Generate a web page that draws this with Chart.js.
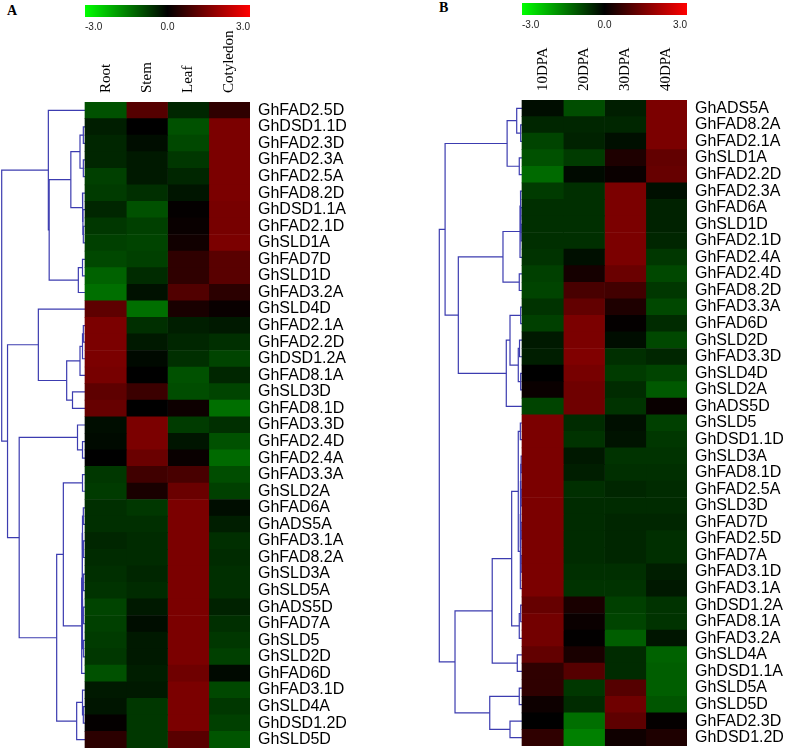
<!DOCTYPE html>
<html>
<head>
<meta charset="utf-8">
<title>Desaturase expression heatmaps</title>
<script src="https://cdn.jsdelivr.net/npm/chart.js@4.4.0/dist/chart.umd.min.js"></script>
<style>
  body { margin: 0; background: #fff; }
  #page { position: relative; width: 787px; height: 750px; overflow: hidden; }
  canvas { position: absolute; }
  .tag { position: absolute; font: bold 14px "Liberation Serif", serif; line-height: 1; }
</style>
</head>
<body>
<div id="page">
  <div class="tag" style="left:7px;top:4px">A</div>
  <div class="tag" style="left:439px;top:1px">B</div>
  <canvas id="keyA" width="185" height="40" style="left:75px;top:0"></canvas>
  <canvas id="keyB" width="185" height="40" style="left:512px;top:0"></canvas>
  <canvas id="heatA" width="360" height="750" style="left:0;top:0"></canvas>
  <canvas id="heatB" width="387" height="750" style="left:400px;top:0"></canvas>
</div>

<script>
// colour key
const keyTicks = [-3, 0, 3];

// panel A: tissues
const colsA = ['Root', 'Stem', 'Leaf', 'Cotyledon'];
const rowsA = ['GhFAD2.5D', 'GhDSD1.1D', 'GhFAD2.3D', 'GhFAD2.3A', 'GhFAD2.5A', 'GhFAD8.2D', 'GhDSD1.1A',
  'GhFAD2.1D', 'GhSLD1A', 'GhFAD7D', 'GhSLD1D', 'GhFAD3.2A', 'GhSLD4D', 'GhFAD2.1A', 'GhFAD2.2D',
  'GhDSD1.2A', 'GhFAD8.1A', 'GhSLD3D', 'GhFAD8.1D', 'GhFAD3.3D', 'GhFAD2.4D', 'GhFAD2.4A', 'GhFAD3.3A',
  'GhSLD2A', 'GhFAD6A', 'GhADS5A', 'GhFAD3.1A', 'GhFAD8.2A', 'GhSLD3A', 'GhSLD5A', 'GhADS5D', 'GhFAD7A',
  'GhSLD5', 'GhSLD2D', 'GhFAD6D', 'GhFAD3.1D', 'GhSLD4A', 'GhDSD1.2D', 'GhSLD5D'];
const rootA = [-0.95, -0.35, -0.45, -0.45, -0.75, -0.7, -0.45, -0.65, -0.75, -0.85, -1.15, -1.3, 1.1, 1.45,
  1.45, 1.45, 1.4, 1.1, 1.2, -0.15, -0.12, 0, -0.65, -0.7, -0.55, -0.55, -0.45, -0.5, -0.55, -0.6, -0.8,
  -0.75, -0.7, -0.65, -0.95, -0.3, -0.25, 0.05, 0.5];
const stemA = [1.0, 0, -0.15, -0.3, -0.3, -0.55, -0.95, -0.75, -0.8, -0.75, -0.5, -0.2, -1.3, -0.55, -0.3,
  -0.1, 0, 0.7, 0, 1.45, 1.45, 1.25, 0.75, 0.3, -0.65, -0.55, -0.5, -0.5, -0.45, -0.5, -0.3, -0.15, -0.3,
  -0.3, -0.35, -0.3, -0.65, -0.65, -0.65];
const leafA = [-0.45, -0.95, -0.85, -0.65, -0.45, -0.25, 0.05, 0.1, 0.2, 0.55, 0.55, 0.95, 0.3, -0.35,
  -0.45, -0.55, -0.95, -0.9, 0.15, -0.7, -0.25, 0.1, 0.85, 1.25, 1.45, 1.45, 1.45, 1.45, 1.45, 1.45, 1.45,
  1.45, 1.45, 1.45, 1.3, 1.45, 1.45, 1.45, 1.05];
const cotyledonA = [0.55, 1.45, 1.45, 1.45, 1.45, 1.45, 1.4, 1.4, 1.45, 1.05, 1.05, 0.5, 0.1, -0.3, -0.55,
  -0.8, -0.45, -0.8, -1.3, -0.55, -0.95, -1.25, -0.9, -0.75, -0.15, -0.35, -0.55, -0.5, -0.55, -0.55, -0.4,
  -0.55, -0.65, -0.75, -0.1, -0.85, -0.65, -0.75, -1.0];
// merges [left, right, distance]; ids above 38 are earlier merges
const treeA = [[1, 2, 0.02], [3, 4, 0.02], [39, 40, 0.06], [7, 8, 0.02], [6, 42, 0.025], [5, 43, 0.03],
  [41, 44, 0.17], [9, 10, 0.03], [46, 11, 0.08], [45, 47, 0.43], [0, 48, 0.44], [13, 14, 0.02],
  [50, 15, 0.03], [51, 16, 0.06], [17, 18, 0.15], [52, 53, 0.22], [12, 54, 0.56], [20, 21, 0.03],
  [19, 56, 0.09], [22, 23, 0.03], [24, 25, 0.02], [26, 27, 0.02], [59, 60, 0.03], [28, 29, 0.02],
  [30, 31, 0.02], [62, 63, 0.03], [32, 33, 0.02], [64, 65, 0.03], [61, 66, 0.035], [67, 34, 0.04],
  [58, 68, 0.26], [36, 37, 0.02], [35, 70, 0.03], [71, 38, 0.10], [69, 72, 0.34], [57, 73, 0.79],
  [55, 74, 0.93], [49, 75, 1.0]];

// panel B: fibre development
const colsB = ['10DPA', '20DPA', '30DPA', '40DPA'];
const rowsB = ['GhADS5A', 'GhFAD8.2A', 'GhFAD2.1A', 'GhSLD1A', 'GhFAD2.2D', 'GhFAD2.3A', 'GhFAD6A',
  'GhSLD1D', 'GhFAD2.1D', 'GhFAD2.4A', 'GhFAD2.4D', 'GhFAD8.2D', 'GhFAD3.3A', 'GhFAD6D', 'GhSLD2D',
  'GhFAD3.3D', 'GhSLD4D', 'GhSLD2A', 'GhADS5D', 'GhSLD5', 'GhDSD1.1D', 'GhSLD3A', 'GhFAD8.1D',
  'GhFAD2.5A', 'GhSLD3D', 'GhFAD7D', 'GhFAD2.5D', 'GhFAD7A', 'GhFAD3.1D', 'GhFAD3.1A', 'GhDSD1.2A',
  'GhFAD8.1A', 'GhFAD3.2A', 'GhSLD4A', 'GhDSD1.1A', 'GhSLD5A', 'GhSLD5D', 'GhFAD2.3D', 'GhDSD1.2D'];
const dpa10 = [-0.15, -0.45, -0.8, -0.95, -1.25, -0.7, -0.55, -0.55, -0.55, -0.6, -0.75, -0.8, -0.6, -0.75,
  -0.3, -0.35, 0, 0.12, -0.8, 1.45, 1.45, 1.45, 1.45, 1.45, 1.45, 1.45, 1.45, 1.45, 1.45, 1.45, 1.2, 1.35,
  1.35, 1.15, 0.55, 0.55, 0.15, 0, 0.55];
const dpa20 = [-0.9, -0.45, -0.4, -0.7, -0.12, -0.55, -0.55, -0.55, -0.55, -0.18, 0.25, 0.85, 1.15, 1.45,
  1.45, 1.5, 1.4, 1.3, 1.3, -0.5, -0.6, -0.28, -0.35, -0.55, -0.5, -0.5, -0.5, -0.5, -0.55, -0.6, 0.3,
  0.12, 0.02, 0.3, 1.0, -0.65, -0.5, -1.3, -1.5];
const dpa30 = [-0.35, -0.45, -0.18, 0.35, 0.12, 1.45, 1.45, 1.45, 1.45, 1.45, 1.25, 0.78, 0.35, 0.05,
  -0.15, -0.55, -0.7, -0.5, -0.6, -0.18, -0.22, -0.6, -0.55, -0.45, -0.5, -0.45, -0.45, -0.45, -0.55,
  -0.6, -0.75, -0.8, -1.1, -0.5, -0.5, 1.0, 1.3, 1.1, 0.18];
const dpa40 = [1.45, 1.45, 1.45, 1.15, 1.2, -0.18, -0.4, -0.4, -0.45, -0.65, -0.85, -0.65, -0.85, -0.5,
  -0.85, -0.45, -0.8, -1.05, 0.1, -0.75, -0.65, -0.6, -0.55, -0.5, -0.5, -0.45, -0.55, -0.55, -0.35,
  -0.28, -0.6, -0.6, -0.25, -1.15, -1.1, -1.1, -1.0, 0.05, 0.35];
const treeB = [[1, 2, 0.016], [0, 39, 0.064], [3, 4, 0.033], [40, 41, 0.18], [7, 8, 0.01], [6, 43, 0.014],
  [5, 44, 0.018], [45, 9, 0.024], [10, 11, 0.033], [46, 47, 0.23], [12, 13, 0.016], [14, 15, 0.03],
  [16, 17, 0.016], [50, 51, 0.045], [49, 52, 0.145], [53, 18, 0.19], [48, 54, 0.77], [42, 55, 0.93],
  [19, 20, 0.02], [21, 22, 0.01], [23, 24, 0.01], [58, 59, 0.015], [25, 26, 0.01], [27, 28, 0.01],
  [61, 62, 0.015], [60, 63, 0.02], [64, 29, 0.02], [57, 65, 0.045], [30, 31, 0.016], [67, 32, 0.033],
  [66, 68, 0.125], [33, 34, 0.057], [69, 70, 0.36], [35, 36, 0.033], [37, 38, 0.145], [72, 73, 0.39],
  [71, 74, 0.81], [56, 75, 1.0]];

const COL_W = 41.25;   // px per heatmap column
const LINK = '#3c3cb0';

function cellColor(v) {
  const c = Math.round(Math.min(Math.abs(v) / 3, 1) * 255);
  return v < 0 ? `rgb(0,${c},0)` : `rgb(${c},0,0)`;
}

function dendroLines(tree, n, span) {
  const nodes = [];
  for (let i = 0; i < n; i++) nodes.push({ y: i, h: 0 });
  return tree.map(([a, b, h]) => {
    const p = nodes[a], q = nodes[b];
    nodes.push({ y: (p.y + q.y) / 2, h });
    return [
      { x: -p.h * span, y: p.y }, { x: -h * span, y: p.y },
      { x: -h * span, y: q.y }, { x: -q.h * span, y: q.y }
    ];
  });
}

function heatmap(id, rows, cols, series, tree, o) {
  const canvas = document.getElementById(id);
  const chartLeft = o.padLeft;
  const chartRight = canvas.width - o.labelW;
  const xMin = 4 - (chartRight - chartLeft) / COL_W;
  const span = o.rootPx / COL_W;

  const cells = series.map((vals, c) => ({
    type: 'bar',
    indexAxis: 'y',
    grouped: false,
    data: vals.map((v, i) => ({ x: [c, c + 1], y: i })),
    backgroundColor: vals.map(cellColor),
    barPercentage: 1,
    categoryPercentage: 1,
    borderWidth: 0
  }));
  const links = dendroLines(tree, rows.length, span).map(pts => ({
    type: 'line',
    data: pts,
    borderColor: LINK,
    borderWidth: 1.2,
    pointRadius: 0,
    fill: false,
    tension: 0
  }));

  new Chart(canvas, {
    type: 'bar',
    data: { datasets: cells.concat(links) },
    options: {
      responsive: false,
      animation: false,
      events: [],
      layout: { padding: { left: o.padLeft, right: 0, top: 0, bottom: o.padBottom } },
      plugins: { legend: { display: false }, tooltip: { enabled: false } },
      scales: {
        x: {
          type: 'linear', position: 'top', min: xMin, max: 4, offset: false,
          grid: { display: false, drawTicks: false, tickLength: 0 }, border: { display: false },
          afterBuildTicks: s => { s.ticks = cols.map((_, i) => ({ value: i + 0.5 })); },
          afterFit: s => { s.height = o.top; s.paddingLeft = 0; s.paddingRight = 0; },
          ticks: {
            autoSkip: false, minRotation: 90, maxRotation: 90, padding: 9, labelOffset: 18,
            color: '#000',
            font: { family: "'Liberation Serif', serif", size: 15 },
            callback: (v, i) => cols[i]
          }
        },
        y: {
          type: 'linear', position: 'right', reverse: true, offset: false,
          min: -0.5, max: rows.length - 0.5,
          grid: { display: false, drawTicks: false, tickLength: 0 }, border: { display: false },
          afterBuildTicks: s => { s.ticks = rows.map((_, i) => ({ value: i })); },
          afterFit: s => { s.width = o.labelW; s.paddingTop = 0; s.paddingBottom = 0; },
          ticks: {
            autoSkip: false, padding: 8, color: '#000',
            font: { family: "'Liberation Sans', Arial, sans-serif", size: 16 },
            callback: (v, i) => rows[i]
          }
        }
      }
    }
  });
}

function colorKey(id, padTop) {
  new Chart(document.getElementById(id), {
    type: 'bar',
    data: {
      labels: [''],
      datasets: [{
        data: [[keyTicks[0], keyTicks[keyTicks.length - 1]]],
        backgroundColor: ctx => {
          const ca = ctx.chart.chartArea;
          if (!ca) return '#000';
          const g = ctx.chart.ctx.createLinearGradient(ca.left, 0, ca.right, 0);
          g.addColorStop(0, 'rgb(0,255,0)');
          g.addColorStop(0.5, 'rgb(0,0,0)');
          g.addColorStop(1, 'rgb(255,0,0)');
          return g;
        },
        barPercentage: 1,
        categoryPercentage: 1,
        borderWidth: 0
      }]
    },
    options: {
      indexAxis: 'y',
      responsive: false,
      animation: false,
      events: [],
      layout: { padding: { left: 10, right: 10, top: padTop, bottom: 0 } },
      plugins: { legend: { display: false }, tooltip: { enabled: false } },
      scales: {
        x: {
          type: 'linear', min: keyTicks[0], max: keyTicks[keyTicks.length - 1], offset: false,
          grid: { display: false, drawTicks: false, tickLength: 0 }, border: { display: false },
          afterBuildTicks: s => { s.ticks = keyTicks.map(v => ({ value: v })); },
          afterFit: s => { s.height = 40 - padTop - 12; s.paddingLeft = 0; s.paddingRight = 0; },
          ticks: {
            align: 'inner', padding: 4, color: '#222',
            font: { family: "'Liberation Sans', Arial, sans-serif", size: 10 },
            callback: v => v.toFixed(1)
          }
        },
        y: { display: false }
      }
    }
  });
}

colorKey('keyA', 5);
colorKey('keyB', 3);
heatmap('heatA', rowsA, colsA, [rootA, stemA, leafA, cotyledonA], treeA,
  { padLeft: 0, labelW: 110, top: 102, padBottom: 2, rootPx: 83.3 });
heatmap('heatB', rowsB, colsB, [dpa10, dpa20, dpa30, dpa40], treeB,
  { padLeft: 36, labelW: 100, top: 100, padBottom: 4, rootPx: 82.7 });
</script>
</body>
</html>
